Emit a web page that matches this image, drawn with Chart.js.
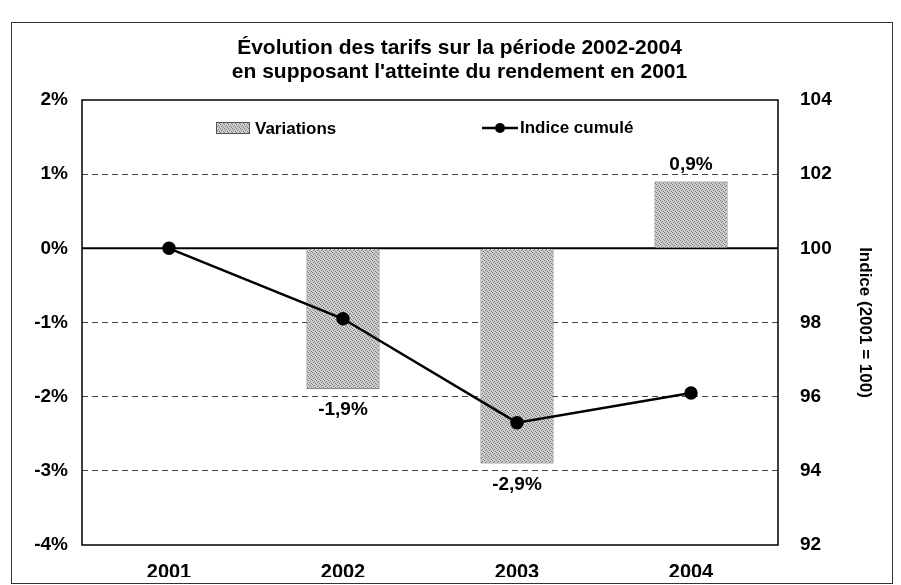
<!DOCTYPE html>
<html>
<head>
<meta charset="utf-8">
<script src="https://cdn.jsdelivr.net/npm/chart.js@4/dist/chart.umd.min.js"></script>
<style>
  body { margin: 0; background: #fff; }
  canvas { display: block; }
</style>
</head>
<body>
<canvas id="myChart" width="901" height="585"></canvas>
<script>
// data
const years = ['2001', '2002', '2003', '2004'];
const variations = [null, -1.9, -2.9, 0.9];
const indice = [100, 98.1, 95.3, 96.1];
const varLabels = ['', '-1,9%', '-2,9%', '0,9%'];
const titleLines = ['Évolution des tarifs sur la période 2002-2004', "en supposant l'atteinte du rendement en 2001"];

const FONT = "'Liberation Sans', Arial, sans-serif";

// stippled grey fill like the printed bars
function makePattern() {
    let c = document.createElement('canvas');
    c.width = 4; c.height = 4;
    let g = c.getContext('2d');
    g.fillStyle = '#cfcfcf';
    g.fillRect(0, 0, 4, 4);
    g.fillStyle = '#7a7a7a';
    [[0, 0], [2, 1], [1, 2], [3, 3]].forEach(p => g.fillRect(p[0], p[1], 1, 1));
    return g.createPattern(c, 'repeat');
}
const stipple = makePattern();

const extras = {
    id: 'extras',
    beforeDraw(chart) {
        let ctx = chart.ctx;
        ctx.save();
        ctx.fillStyle = '#fff';
        ctx.fillRect(0, 0, chart.width, chart.height);
        ctx.strokeStyle = '#333';
        ctx.lineWidth = 1;
        ctx.strokeRect(11.5, 22.5, 881, 561);
        ctx.restore();
    },
    beforeDatasetsDraw(chart) {
        let ctx = chart.ctx, a = chart.chartArea;
        let y0 = chart.scales.y.getPixelForValue(0);
        ctx.save();
        ctx.strokeStyle = '#000';
        ctx.lineWidth = 2;
        ctx.beginPath();
        ctx.moveTo(a.left, y0);
        ctx.lineTo(a.right, y0);
        ctx.stroke();
        ctx.restore();
    },
    afterDatasetsDraw(chart) {
        let ctx = chart.ctx, a = chart.chartArea;
        ctx.save();
        // plot frame
        ctx.strokeStyle = '#000';
        ctx.lineWidth = 1.5;
        ctx.strokeRect(a.left, a.top, a.right - a.left, a.bottom - a.top);

        // value labels on the bars
        ctx.font = 'bold 19px ' + FONT;
        ctx.fillStyle = '#000';
        ctx.textAlign = 'center';
        ctx.textBaseline = 'middle';
        chart.getDatasetMeta(1).data.forEach((bar, i) => {
            if (variations[i] === null) return;
            let y = variations[i] < 0 ? bar.y + 21 : bar.y - 17;
            ctx.fillText(varLabels[i], bar.x, y);
        });

        // legend inside the plot
        let ly = a.top + 28;
        let lx1 = a.left + 134;
        ctx.fillStyle = stipple;
        ctx.fillRect(lx1, ly - 6, 34, 12);
        ctx.strokeStyle = '#555';
        ctx.lineWidth = 1;
        ctx.strokeRect(lx1 + 0.5, ly - 5.5, 33, 11);
        ctx.fillStyle = '#000';
        ctx.textAlign = 'left';
        ctx.font = 'bold 17px ' + FONT;
        ctx.fillText('Variations', lx1 + 39, ly + 1);

        let lx2 = a.left + 400;
        ctx.strokeStyle = '#000';
        ctx.lineWidth = 2.5;
        ctx.beginPath();
        ctx.moveTo(lx2, ly);
        ctx.lineTo(lx2 + 36, ly);
        ctx.stroke();
        ctx.beginPath();
        ctx.arc(lx2 + 18, ly, 5, 0, Math.PI * 2);
        ctx.fill();
        ctx.fillText('Indice cumulé', lx2 + 38, ly);
        ctx.restore();
    }
};

new Chart(document.getElementById('myChart'), {
    type: 'bar',
    data: {
        labels: years,
        datasets: [{
            type: 'line',
            label: 'Indice cumulé',
            data: indice,
            yAxisID: 'y1',
            borderColor: '#000',
            backgroundColor: '#000',
            borderWidth: 2.5,
            pointRadius: 5.5,
            pointBackgroundColor: '#000',
            tension: 0,
            order: 0
        }, {
            type: 'bar',
            label: 'Variations',
            data: variations,
            yAxisID: 'y',
            backgroundColor: stipple,
            borderColor: '#555',
            borderWidth: 1,
            categoryPercentage: 1,
            barPercentage: 0.42,
            order: 1
        }]
    },
    options: {
        responsive: false,
        animation: false,
        layout: { padding: { left: 18, right: 0, top: 22, bottom: 8 } },
        plugins: {
            legend: { display: false },
            tooltip: { enabled: false },
            title: {
                display: true,
                text: titleLines,
                color: '#000',
                font: { family: FONT, size: 21, weight: 'bold', lineHeight: 1.143 },
                padding: { top: 14, bottom: 16 }
            }
        },
        scales: {
            x: {
                grid: { display: false, drawTicks: false },
                border: { display: false },
                ticks: { color: '#000', padding: 15, font: { family: FONT, size: 20, weight: 'bold' } },
                afterFit: s => { s.height = 32; }
            },
            y: {
                position: 'left',
                min: -4, max: 2,
                grid: {
                    drawTicks: false,
                    lineWidth: 1,
                    color: c => [1, -1, -2, -3].includes(c.tick.value) ? '#444' : 'rgba(0,0,0,0)'
                },
                border: { display: false, dash: [6, 4] },
                ticks: {
                    stepSize: 1, color: '#000', padding: 14,
                    font: { family: FONT, size: 19, weight: 'bold' },
                    callback: v => v + '%'
                },
                afterFit: s => { s.width = 64; }
            },
            y1: {
                position: 'right',
                min: 92, max: 104,
                grid: { display: false, drawTicks: false },
                border: { display: false },
                ticks: {
                    stepSize: 2, color: '#000', padding: 22,
                    font: { family: FONT, size: 19, weight: 'bold' }
                },
                title: {
                    display: true,
                    text: 'Indice (2001 = 100)',
                    color: '#000',
                    font: { family: FONT, size: 17, weight: 'bold' },
                    padding: 26
                },
                afterFit: s => { s.width = 123; }
            }
        }
    },
    plugins: [extras]
});
</script>
</body>
</html>
